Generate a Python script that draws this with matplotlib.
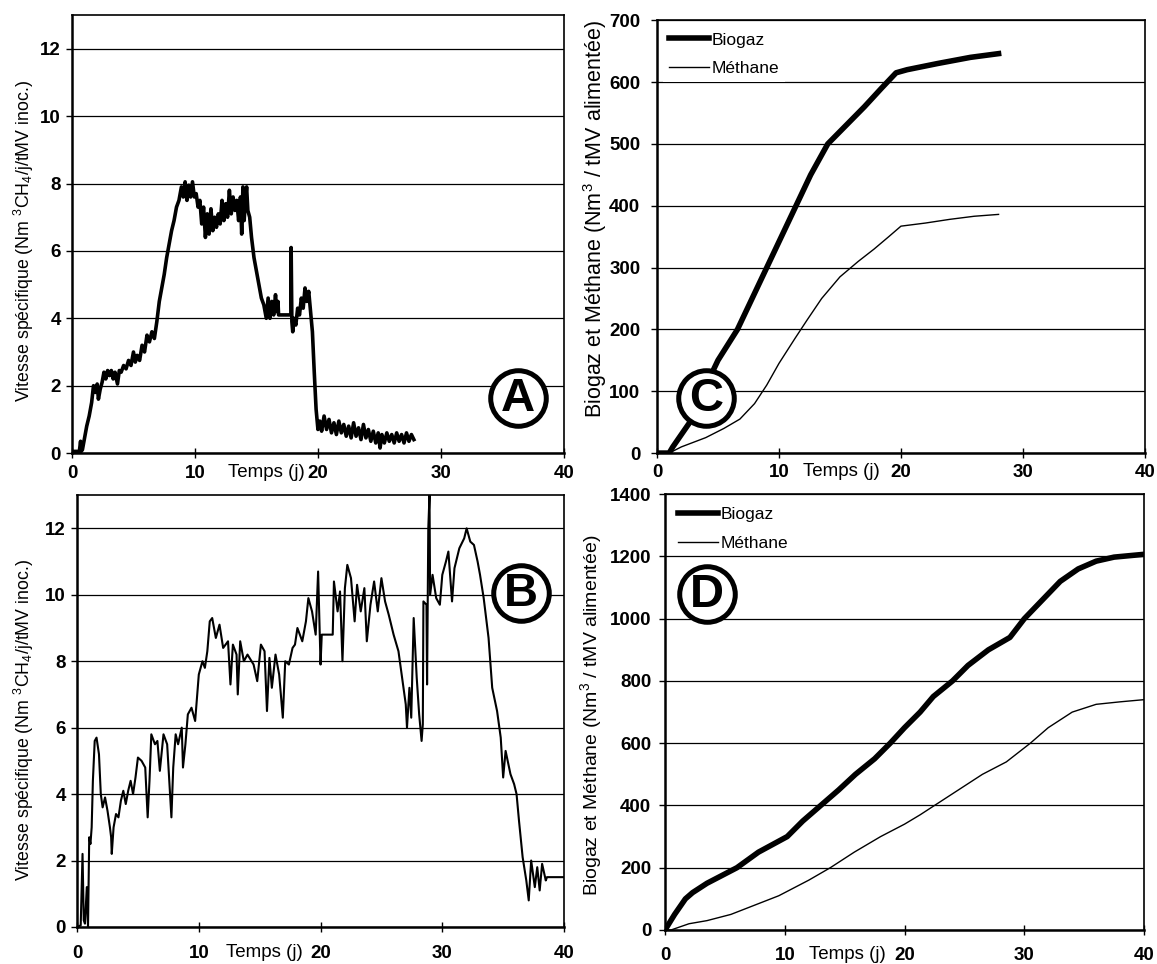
import matplotlib
matplotlib.use("Agg")
import matplotlib.pyplot as plt

plt.rcParams["font.family"] = ["Liberation Sans", "DejaVu Sans"]
plt.rcParams["mathtext.fontset"] = "custom"
plt.rcParams["mathtext.rm"] = "Liberation Sans"
plt.rcParams["mathtext.it"] = "Liberation Sans:italic"

# Panel A: specific methane rate (Nm3 CH4 / j / tMV inoc.)
a_t = [0.0, 0.3, 0.6, 0.7, 0.75, 0.85, 1.0, 1.2, 1.4, 1.6, 1.75, 1.9, 2.05, 2.15, 2.3, 2.45,
       2.6, 2.75, 2.9, 3.05, 3.2, 3.35, 3.5, 3.7, 3.85, 4.0, 4.2, 4.4, 4.6, 4.8, 5.0,
       5.15, 5.3, 5.5, 5.7, 5.9, 6.1, 6.3, 6.5, 6.7, 6.9, 7.1, 7.3, 7.5, 7.7, 7.9,
       8.1, 8.3, 8.5, 8.7, 8.9, 9.05, 9.2, 9.35, 9.5, 9.65, 9.8, 9.95, 10.1, 10.25,
       10.4, 10.55, 10.7, 10.85, 11.0, 11.15, 11.3, 11.45, 11.6, 11.75, 11.9, 12.05,
       12.2, 12.35, 12.5, 12.65, 12.8, 12.95, 13.1, 13.25, 13.4, 13.55, 13.7, 13.8,
       13.9, 14.0, 14.1, 14.2, 14.3, 14.45, 14.6, 14.8, 15.0, 15.2, 15.4, 15.6, 15.8,
       15.95, 16.1, 16.25, 16.4, 16.55, 16.65, 16.75, 16.8, 17.8, 17.82, 17.88, 17.95,
       18.05, 18.2, 18.35, 18.5, 18.65, 18.8, 18.95, 19.1, 19.25, 19.4, 19.55, 19.7,
       19.85, 20.0, 20.15, 20.3, 20.5, 20.7, 20.9, 21.1, 21.3, 21.5, 21.7, 21.9,
       22.1, 22.3, 22.5, 22.7, 22.9, 23.1, 23.3, 23.5, 23.7, 23.9, 24.1, 24.3, 24.5,
       24.7, 24.9, 25.05, 25.2, 25.4, 25.6, 25.8, 26.0, 26.2, 26.4, 26.6, 26.8, 27.0,
       27.2, 27.4, 27.6, 27.8]
a_v = [0.05, 0.05, 0.05, 0.35, 0.05, 0.1, 0.4, 0.8, 1.1, 1.5, 2.0, 1.8, 2.05, 1.6, 1.9, 2.1,
       2.4, 2.2, 2.45, 2.3, 2.45, 2.2, 2.4, 2.05, 2.45, 2.4, 2.6, 2.5, 2.75, 2.6, 3.0,
       2.7, 2.9, 2.75, 3.2, 3.0, 3.5, 3.3, 3.6, 3.4, 3.9, 4.5, 4.9, 5.3, 5.8, 6.2,
       6.6, 6.9, 7.3, 7.5, 7.9, 7.6, 8.05, 7.5, 7.95, 7.6, 8.05, 7.6, 7.7, 7.3,
       7.5, 6.8, 7.3, 6.4, 7.1, 6.5, 7.25, 6.6, 7.0, 6.7, 7.1, 6.8,
       7.5, 6.9, 7.4, 7.0, 7.8, 7.1, 7.6, 7.2, 7.5, 6.9, 7.6, 6.5,
       7.9, 6.9, 7.5, 7.9, 7.2, 7.0, 6.4, 5.8, 5.4, 5.0, 4.6, 4.4, 4.0,
       4.6, 4.0, 4.5, 4.1, 4.7, 4.2, 4.5, 4.1, 4.1, 6.1, 3.9, 3.6,
       4.0, 3.8, 4.3, 4.1, 4.6, 4.3, 4.9, 4.5, 4.8, 4.2, 3.6, 2.4,
       1.3, 0.7, 0.95, 0.65, 1.1, 0.7, 1.0, 0.6, 0.9, 0.55, 0.95, 0.6,
       0.85, 0.5, 0.8, 0.45, 0.9, 0.5, 0.75, 0.4, 0.85, 0.45, 0.7, 0.35, 0.65,
       0.3, 0.6, 0.15, 0.55, 0.3, 0.6, 0.35, 0.55, 0.3, 0.6, 0.35, 0.55, 0.3,
       0.6, 0.35, 0.55, 0.4]

# Panel B: specific methane rate, second run
b_t = [0.0, 0.3, 0.45, 0.55, 0.65, 0.8, 0.9, 1.0, 1.1, 1.2, 1.3, 1.45, 1.6, 1.8, 1.95,
       2.1, 2.3, 2.5, 2.7, 2.8, 2.85, 3.0, 3.2, 3.4, 3.6, 3.8, 4.0, 4.2, 4.4, 4.6,
       4.8, 5.0, 5.3, 5.6, 5.8, 5.95, 6.1, 6.4, 6.6, 6.8, 7.1, 7.4, 7.75, 7.9, 8.1,
       8.3, 8.6, 8.7, 8.9, 9.1, 9.4, 9.7, 10.0, 10.3, 10.5, 10.7, 10.9, 11.1, 11.4,
       11.7, 12.0, 12.4, 12.6, 12.8, 13.1, 13.2, 13.4, 13.7, 14.0, 14.5, 14.8, 15.1,
       15.4, 15.6, 15.8, 16.0, 16.3, 16.6, 16.9, 17.1, 17.4, 17.7, 17.9, 18.1, 18.5,
       18.8, 19.0, 19.3, 19.6, 19.8, 20.0, 20.1, 21.0, 21.1, 21.4, 21.6, 21.8, 22.0,
       22.2, 22.5, 22.8, 23.0, 23.3, 23.6, 23.8, 24.1, 24.4, 24.7, 25.0, 25.3, 25.6,
       26.0, 26.4, 26.7, 27.0, 27.1, 27.3, 27.45, 27.65, 27.9, 28.1, 28.3, 28.4, 28.45,
       28.7, 28.75, 28.85, 28.95, 29.0, 29.2, 29.5, 29.8, 30.0, 30.3, 30.5, 30.8, 31.0,
       31.4, 31.8, 32.0, 32.3, 32.6, 32.9, 33.1, 33.4, 33.8, 34.1, 34.5, 34.8, 35.0,
       35.2, 35.6, 35.9, 36.1, 36.3, 36.6, 36.9, 37.1, 37.3, 37.6, 37.8, 38.0, 38.2,
       38.5, 38.6, 40.0]
b_v = [0.0, 0.05, 2.2, 0.2, 0.1, 1.2, 0.0, 2.7, 2.5, 3.0, 4.4, 5.6, 5.7, 5.2, 4.0,
       3.6, 3.9, 3.5, 3.0, 2.7, 2.2, 3.0, 3.4, 3.3, 3.8, 4.1, 3.7, 4.1, 4.4, 4.0,
       4.5, 5.1, 5.0, 4.8, 3.3, 4.4, 5.8, 5.5, 5.6, 4.7, 5.8, 5.5, 3.3, 4.8, 5.8,
       5.5, 6.0, 4.8, 5.5, 6.4, 6.6, 6.2, 7.6, 8.0, 7.8, 8.3, 9.2, 9.3, 8.7,
       9.1, 8.4, 8.6, 7.3, 8.5, 8.2, 7.0, 8.6, 8.0, 8.2, 7.9, 7.4, 8.5,
       8.3, 6.5, 8.1, 7.2, 8.2, 7.6, 6.3, 8.0, 7.9, 8.4, 8.5, 9.0, 8.6,
       9.2, 9.9, 9.5, 8.8, 10.7, 7.9, 8.8, 8.8, 10.4, 9.5, 10.1, 8.0, 10.2,
       10.9, 10.5, 9.2, 10.3, 9.5, 10.2, 8.6, 9.7, 10.4, 9.5, 10.5, 9.8, 9.4,
       8.8, 8.3, 7.5, 6.7, 6.0, 7.2, 6.3, 9.3, 7.5, 6.4, 5.6, 6.1, 9.8,
       9.7, 7.3, 12.0, 13.0, 10.0, 10.6, 9.9, 9.7, 10.6, 11.0, 11.3, 9.8, 10.8,
       11.4, 11.7, 12.0, 11.6, 11.5, 11.0, 10.6, 9.9, 8.7, 7.2, 6.5, 5.7, 4.5,
       5.3, 4.6, 4.3, 4.0, 3.2, 2.1, 1.4, 0.8, 2.0, 1.2, 1.8, 1.1, 1.9,
       1.4, 1.5, 1.5]

# Panel C: cumulative production (Nm3 / tMV alimentee)
c_bio_t = [0.0, 1.0, 1.3, 2.7, 3.8, 5.0, 6.6, 7.8, 9.0, 10.2, 11.4, 12.6, 14.0, 15.5,
           17.0, 18.4, 19.6, 20.5, 23.0, 25.7, 28.0]
c_bio_v = [0, 0, 10, 50, 100, 150, 200, 250, 300, 350, 400, 450, 500, 530,
           560, 590, 615, 620, 630, 640, 646]
c_met_t = [0.0, 1.0, 2.0, 4.0, 5.5, 6.8, 8.0, 9.0, 10.0, 11.3, 12.3, 13.5, 15.0, 16.5,
           17.8, 19.0, 20.0, 22.0, 24.0, 26.0, 28.0]
c_met_v = [0, 0, 10, 25, 40, 55, 80, 110, 145, 185, 215, 250, 285, 310,
           330, 350, 367, 372, 378, 383, 386]

# Panel D: cumulative production, second run
d_bio_t = [0.0, 0.8, 1.7, 2.3, 3.5, 6.0, 7.8, 10.2, 11.5, 13.0, 14.5, 15.9, 17.5, 18.8,
           20.0, 21.3, 22.4, 24.0, 25.3, 27.0, 28.8, 30.0, 31.5, 33.0, 34.5, 36.0, 37.5, 40.0]
d_bio_v = [0, 50, 100, 120, 150, 200, 250, 300, 350, 400, 450, 500, 550, 600,
           650, 700, 750, 800, 850, 900, 940, 1000, 1060, 1120, 1160, 1185, 1198, 1207]
d_met_t = [0.0, 0.5, 2.0, 3.5, 5.5, 7.5, 9.5, 10.5, 12.0, 13.8, 15.8, 18.0, 20.0, 21.3,
           22.5, 24.5, 26.5, 28.5, 30.5, 32.0, 34.0, 36.0, 38.0, 40.0]
d_met_v = [0, 0, 20, 30, 50, 80, 110, 130, 160, 200, 250, 300, 340, 370,
           400, 450, 500, 540, 600, 650, 700, 725, 733, 740]

x_ticks = [0, 10, 20, 30, 40]
rate_label = "Vitesse spécifique (Nm $^3$CH$_4$/j/tMV inoc.)"
cumul_label = "Biogaz et Méthane (Nm$^3$ / tMV alimentée)"

fig = plt.figure(figsize=(11.57, 9.64), dpi=100)
ax_a = fig.add_axes([0.0622, 0.530, 0.4252, 0.4544])
ax_b = fig.add_axes([0.0666, 0.0384, 0.4209, 0.448])
ax_c = fig.add_axes([0.5678, 0.530, 0.4218, 0.449])
ax_d = fig.add_axes([0.5748, 0.0353, 0.4140, 0.452])


def style_axes(ax, ymax, ystep, ylabel, ylabel_size, label_xy, xpad, ypad, temps_xy):
    ax.set_xlim(0, 40)
    ax.set_ylim(0, ymax)
    ax.set_xticks(x_ticks)
    ax.set_yticks(range(0, int(ymax) + 1, ystep))
    ax.yaxis.grid(True, color="black", linewidth=0.9)
    ax.set_axisbelow(True)
    for spine in ax.spines.values():
        spine.set_color("black")
        spine.set_linewidth(1.2)
    ax.spines["bottom"].set_linewidth(1.8)
    ax.spines["left"].set_linewidth(1.8)
    ax.tick_params(axis="x", direction="inout", length=7, width=1, labelsize=13.5, pad=xpad)
    ax.tick_params(axis="y", direction="out", length=4, width=1, labelsize=13.5, pad=ypad)
    for lab in ax.get_xticklabels() + ax.get_yticklabels():
        lab.set_fontweight("bold")
    ax.set_ylabel(ylabel, fontsize=ylabel_size, va="center")
    ax.yaxis.set_label_coords(*label_xy)
    ax.text(temps_xy[0], temps_xy[1], "Temps (j)", transform=ax.transAxes, ha="center",
            va="center", fontsize=13.5)


def circled(ax, x, y, letter):
    ax.scatter([x], [y], s=1600, marker="o", facecolor="white", edgecolor="black",
               linewidth=3.6, transform=ax.transAxes, zorder=5, clip_on=False)
    ax.text(x, y - 0.003, letter, transform=ax.transAxes, ha="center", va="center",
            fontsize=34, fontweight="bold", zorder=6)


ax_a.plot(a_t, a_v, color="black", linewidth=2.6)
style_axes(ax_a, 13, 2, rate_label, 12.8, (-0.098, 0.484), 5, 4, (0.395, -0.045))
circled(ax_a, 0.907, 0.126, "A")

ax_b.plot(b_t, b_v, color="black", linewidth=1.5)
style_axes(ax_b, 13, 2, rate_label, 12.8, (-0.109, 0.479), 9.5, 4, (0.385, -0.058))
circled(ax_b, 0.912, 0.773, "B")

ax_c.plot(c_bio_t, c_bio_v, color="black", linewidth=4, label="Biogaz")
ax_c.plot(c_met_t, c_met_v, color="black", linewidth=1.0, label="Méthane")
style_axes(ax_c, 700, 100, cumul_label, 15.5, (-0.127, 0.54), 4.5, 8, (0.378, -0.042))
circled(ax_c, 0.100, 0.127, "C")

ax_d.plot(d_bio_t, d_bio_v, color="black", linewidth=4, label="Biogaz")
ax_d.plot(d_met_t, d_met_v, color="black", linewidth=1.0, label="Méthane")
style_axes(ax_d, 1400, 200, cumul_label, 14, (-0.154, 0.493), 8.5, 6, (0.38, -0.056))
circled(ax_d, 0.088, 0.771, "D")

for ax, bpad, apad in ((ax_c, 0.35, 0.35), (ax_d, 0.1, 0.65)):
    leg = ax.legend(loc="upper left", fontsize=12.5, frameon=True, handlelength=2.3,
                    handletextpad=0.15, borderaxespad=apad, labelspacing=0.75,
                    borderpad=bpad)
    leg.get_frame().set_edgecolor("none")
    leg.get_frame().set_facecolor("white")
    leg.get_frame().set_alpha(1)
    leg.get_frame().set_boxstyle("square", pad=0.0)

fig.savefig("out.png", dpi=100)
